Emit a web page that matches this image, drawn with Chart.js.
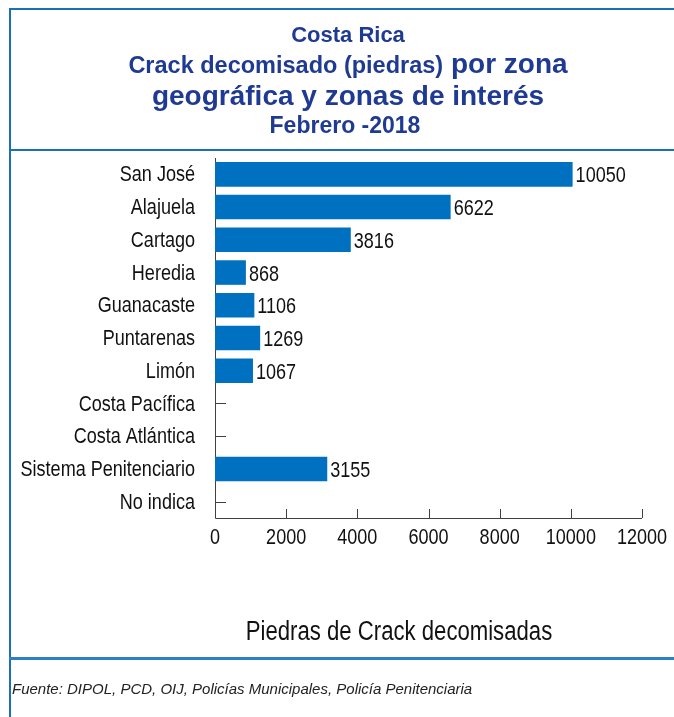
<!DOCTYPE html>
<html>
<head>
<meta charset="utf-8">
<script src="https://cdn.jsdelivr.net/npm/chart.js@4"></script>
<style>
  body { margin: 0; background: #fff; }
  #wrap { position: relative; width: 674px; height: 717px; overflow: hidden; }
  #wrap canvas { position: absolute; left: 0; top: 0; }
  .t { position: absolute; left: 16px; width: 664px; text-align: center; color: #1F3A93;
       font-family: "Liberation Sans", Arial, sans-serif; font-weight: bold; white-space: nowrap; }
  .ln { position: absolute; background: #1B6FB5; }
  #axTitle { position: absolute; left: 0; width: 798px; text-align: center; top: 618px;
       font-family: "Liberation Sans", Arial, sans-serif; font-size: 27px; line-height: 27px; color: #111;
       transform: scaleX(0.82); transform-origin: 399px 0; white-space: nowrap; }
  #foot { position: absolute; left: 12px; top: 681px; font-family: "Liberation Sans", Arial, sans-serif;
       font-style: italic; font-size: 15px; line-height: 15px; color: #222; white-space: nowrap; }
</style>
</head>
<body>
<div id="wrap">
  <canvas id="barChart" width="674" height="717"></canvas>
  <div class="ln" style="left:9px; top:8px; width:665px; height:2px;"></div>
  <div class="ln" style="left:9px; top:8px; width:2px; height:709px;"></div>
  <div class="ln" style="left:9px; top:149px; width:665px; height:2px;"></div>
  <div class="ln" style="left:9px; top:657px; width:665px; height:3px; background:#2E80C4;"></div>
  <div class="t" style="top:24px; font-size:22px; line-height:22px;">Costa Rica</div>
  <div class="t" style="top:50px; font-size:28px; line-height:28px;"><span style="font-size:23.5px; line-height:23px;">Crack decomisado (piedras)</span> por zona</div>
  <div class="t" style="top:82px; font-size:28px; line-height:28px;">geográfica y zonas de interés</div>
  <div class="t" style="top:114px; left:13px; font-size:23px; line-height:23px;">Febrero -2018</div>
  <div id="axTitle">Piedras de Crack decomisadas</div>
  <div id="foot">Fuente: DIPOL, PCD, OIJ, Policías Municipales, Policía Penitenciaria</div>
</div>
<script>
const categories = ['San José', 'Alajuela', 'Cartago', 'Heredia', 'Guanacaste', 'Puntarenas',
  'Limón', 'Costa Pacífica', 'Costa Atlántica', 'Sistema Penitenciario', 'No indica'];
const piedras = [10050, 6622, 3816, 868, 1106, 1269, 1067, null, null, 3155, null];
const xTicks = [0, 2000, 4000, 6000, 8000, 10000, 12000];

const labelFont = '22px "Liberation Sans", Arial, sans-serif';
const squeeze = 0.82; // the original uses a condensed face
const axisColor = '#404040';
const textColor = '#111';

function narrowText(ctx, str, x, y, align) {
    ctx.save();
    ctx.translate(x, y);
    ctx.scale(squeeze, 1);
    ctx.textAlign = align;
    ctx.fillText(str, 0, 0);
    ctx.restore();
}

// axis lines and inward tick marks, drawn under the bars
const axisMarks = {
    id: 'axisMarks',
    beforeDatasetsDraw(chart) {
        const ctx = chart.ctx;
        const x = chart.scales.x, y = chart.scales.y;
        const a = chart.chartArea;
        ctx.save();
        ctx.strokeStyle = axisColor;
        ctx.lineWidth = 1;
        ctx.beginPath();
        ctx.moveTo(a.left + 0.5, a.top);
        ctx.lineTo(a.left + 0.5, a.bottom + 0.5);
        ctx.lineTo(a.right, a.bottom + 0.5);
        x.ticks.forEach(t => {
            const px = Math.round(x.getPixelForValue(t.value)) + 0.5;
            ctx.moveTo(px, a.bottom);
            ctx.lineTo(px, a.bottom - 9);
        });
        categories.forEach((c, i) => {
            const py = Math.round(y.getPixelForValue(i)) + 0.5;
            ctx.moveTo(a.left, py);
            ctx.lineTo(a.left + 11, py);
        });
        ctx.stroke();
        ctx.restore();
    }
};

// tick labels and value labels
const textLayer = {
    id: 'textLayer',
    afterDatasetsDraw(chart) {
        const ctx = chart.ctx;
        const x = chart.scales.x, y = chart.scales.y;
        const a = chart.chartArea;
        const meta = chart.getDatasetMeta(0);
        ctx.save();
        ctx.font = labelFont;
        ctx.fillStyle = textColor;
        ctx.textBaseline = 'middle';
        categories.forEach((c, i) => {
            narrowText(ctx, c, a.left - 20, y.getPixelForValue(i) + 1, 'right');
        });
        xTicks.forEach(v => {
            narrowText(ctx, String(v), x.getPixelForValue(v), a.bottom + 20, 'center');
        });
        meta.data.forEach((bar, i) => {
            if (piedras[i] == null) return;
            narrowText(ctx, String(piedras[i]), bar.x + 3, bar.y + 2, 'left');
        });
        ctx.restore();
    }
};

const ctx = document.getElementById('barChart').getContext('2d');
const barChart = new Chart(ctx, {
    type: 'bar',
    data: {
        labels: categories,
        datasets: [{
            label: 'Piedras',
            data: piedras,
            backgroundColor: '#0070C0',
            borderWidth: 0,
            barPercentage: 0.75,
            categoryPercentage: 1
        }]
    },
    options: {
        indexAxis: 'y',
        responsive: false,
        animation: false,
        layout: {
            padding: { left: 10, right: 32, top: 158, bottom: 159 }
        },
        plugins: {
            legend: { display: false },
            tooltip: { enabled: false }
        },
        scales: {
            x: {
                min: 0,
                max: 12000,
                afterBuildTicks(scale) {
                    scale.ticks = xTicks.map(v => ({ value: v }));
                },
                afterFit(scale) { scale.height = 40; },
                grid: { display: false, drawTicks: false },
                border: { display: false },
                ticks: { display: false }
            },
            y: {
                afterFit(scale) { scale.width = 205; },
                grid: { display: false, drawTicks: false },
                border: { display: false },
                ticks: { display: false }
            }
        }
    },
    plugins: [axisMarks, textLayer]
});
</script>
</body>
</html>
